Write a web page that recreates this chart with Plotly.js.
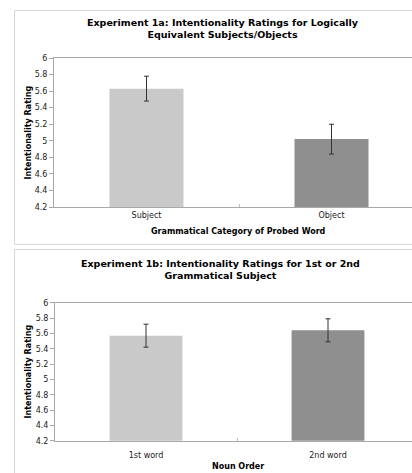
<!DOCTYPE html>
<html>
<head>
<meta charset="utf-8">
<script src="https://cdn.plot.ly/plotly-3.0.1.min.js"></script>
<style>html,body{margin:0;padding:0;background:#fff;}#chart{width:412px;height:473px;}</style>
</head>
<body>
<div id="chart"></div>
<script>
// Experiment 1a data
const categories1 = ['Subject', 'Object'];
const means1 = [5.63, 5.02];
const errors1 = [0.15, 0.18];
// Experiment 1b data
const categories2 = ['1st word', '2nd word'];
const means2 = [5.57, 5.64];
const errors2 = [0.15, 0.15];
const barColors = ['#c9c9c9', '#8f8f8f'];
const title1 = 'Experiment 1a: Intentionality Ratings for Logically<br>Equivalent Subjects/Objects';
const title2 = 'Experiment 1b: Intentionality Ratings for 1st or 2nd<br>Grammatical Subject';
const xTitle1 = 'Grammatical Category of Probed Word';
const xTitle2 = 'Noun Order';
const yTitle = 'Intentionality Rating';

const W = 412, H = 473;
const px = v => v / W;
const py = v => 1 - v / H;
const FONT = 'DejaVu Sans, Verdana, sans-serif';

function barTrace(cats, vals, errs, xa, ya) {
  return {
    type: 'bar', x: cats, y: vals, xaxis: xa, yaxis: ya,
    width: 0.4,
    marker: {color: barColors, line: {width: 0}},
    error_y: {type: 'data', array: errs, visible: true, color: '#333333', thickness: 1, width: 2.5},
    hoverinfo: 'none', showlegend: false
  };
}

function yAxis(domain, anchor) {
  return {
    domain: domain, anchor: anchor, range: [4.2, 6], dtick: 0.2, tick0: 4.2,
    showgrid: false, zeroline: false, showline: true, linecolor: '#a8a8a8', linewidth: 1,
    ticks: 'outside', ticklen: 4, tickcolor: '#a8a8a8',
    tickfont: {family: FONT, size: 8, color: '#222'}
  };
}
function xAxis(domain, anchor, rangeEnd, standoff) {
  return {
    domain: domain, anchor: anchor, type: 'category', range: [-0.5, rangeEnd],
    showgrid: false, zeroline: false, showline: true, mirror: true, linecolor: '#a8a8a8', linewidth: 1,
    ticks: 'inside', tickson: 'boundaries', ticklen: 3, tickcolor: '#c0c0c0',
    ticklabelstandoff: standoff,
    tickfont: {family: FONT, size: 8, color: '#222'}
  };
}

const data = [
  barTrace(categories1, means1, errors1, 'x', 'y'),
  barTrace(categories2, means2, errors2, 'x2', 'y2')
];

const ann = (text, x, y, size, angle) => ({
  text: text, xref: 'paper', yref: 'paper', x: px(x), y: py(y),
  xanchor: 'center', yanchor: 'middle', showarrow: false, textangle: angle || 0,
  font: {family: FONT, size: size, color: '#000', weight: 'bold'}
});

const layout = {
  width: W, height: H,
  margin: {l: 0, r: 0, t: 0, b: 0},
  paper_bgcolor: '#fff', plot_bgcolor: '#fff',
  bargap: 0.6,
  xaxis: xAxis([px(54), 1], 'y', -0.5 + (W - 54) / 185, 4.5),
  yaxis: yAxis([py(207), py(58)], 'x'),
  xaxis2: xAxis([px(55), 1], 'y2', -0.5 + (W - 55) / 182, 7),
  yaxis2: yAxis([py(440.7), py(302.7)], 'x2'),
  shapes: [
    {type: 'rect', xref: 'paper', yref: 'paper', x0: px(14.5), x1: 1.2, y0: py(244.5), y1: py(10.5),
     line: {color: '#d6d6d6', width: 1}, fillcolor: 'rgba(0,0,0,0)'},
    {type: 'rect', xref: 'paper', yref: 'paper', x0: px(14.5), x1: 1.2, y0: -0.2, y1: py(249.5),
     line: {color: '#d6d6d6', width: 1}, fillcolor: 'rgba(0,0,0,0)'}
  ],
  annotations: [
    ann(title1, 222.5, 28.8, 9.5),
    ann(title2, 220, 269.5, 9.5),
    ann(xTitle1, 239, 231, 8),
    ann(xTitle2, 237.5, 466.7, 8),
    ann(yTitle, 28, 132.5, 8, -90),
    ann(yTitle, 28, 371.5, 8, -90)
  ]
};

Plotly.newPlot('chart', data, layout, {staticPlot: true, displayModeBar: false});
</script>
</body>
</html>
